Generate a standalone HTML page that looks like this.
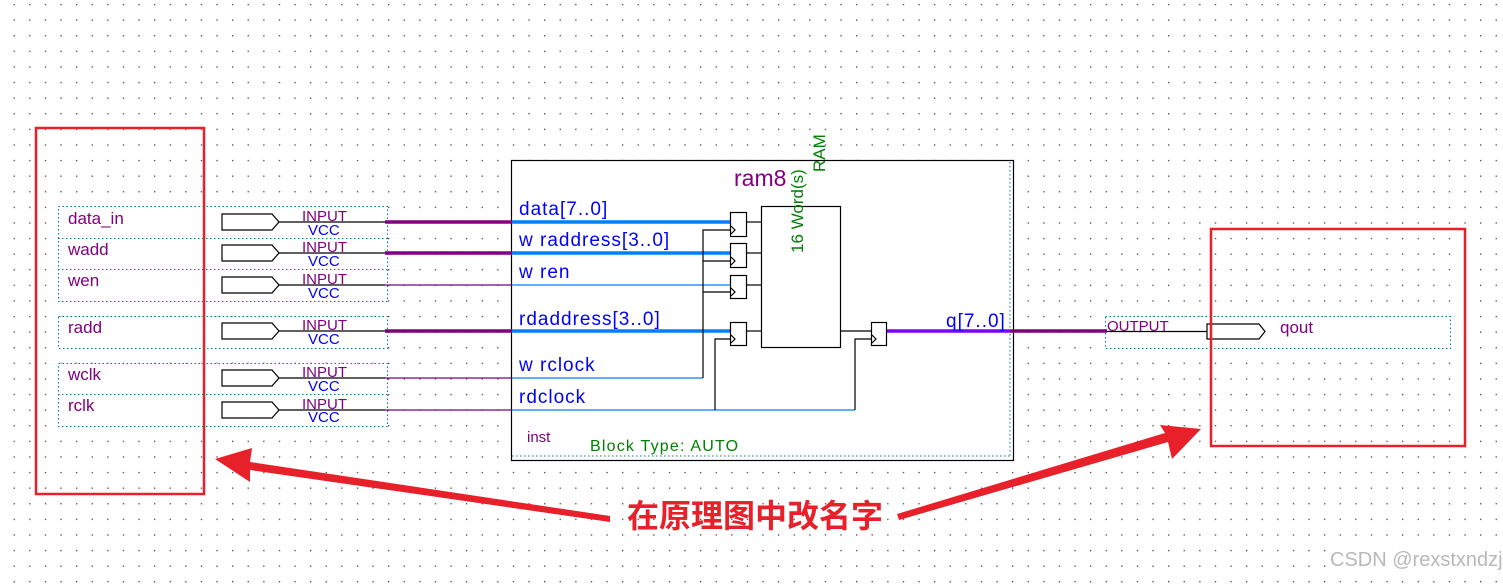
<!DOCTYPE html>
<html><head><meta charset="utf-8"><style>
html,body{margin:0;padding:0;background:#fff;width:1503px;height:586px;overflow:hidden}
svg{display:block}
text{font-family:"Liberation Sans","Noto Sans CJK SC",sans-serif}
</style></head><body>
<svg width="1503" height="586" viewBox="0 0 1503 586" xmlns="http://www.w3.org/2000/svg">
<defs>
<pattern id="g" x="13.6" y="3.9" width="15.6" height="15.6" patternUnits="userSpaceOnUse">
<rect x="0" y="0" width="1.3" height="1.3" fill="#444"/>
</pattern>
</defs>
<rect width="1503" height="586" fill="#fff"/>
<rect width="1503" height="586" fill="url(#g)"/>

<!-- block -->
<rect x="511.5" y="160.5" width="502" height="300" fill="#fff" stroke="#000" stroke-width="1.2"/>
<line x1="1010" y1="162" x2="1010" y2="458" stroke="#008080" stroke-dasharray="1.5,2.5"/>
<line x1="512" y1="456" x2="1010" y2="456" stroke="#008080" stroke-dasharray="1.5,2.5"/>

<!-- dotted groups -->
<g fill="#fff" stroke="#008080" stroke-dasharray="1.5,2.5" stroke-width="1">
<rect x="58.5" y="206.5" width="329" height="95"/>
<line x1="58" y1="238.5" x2="387" y2="238.5"/>
<line x1="58" y1="269.5" x2="387" y2="269.5"/>
<rect x="58.5" y="316.5" width="329" height="32"/>
<rect x="58.5" y="363.5" width="329" height="63"/>
<line x1="58" y1="394.5" x2="387" y2="394.5"/>
<rect x="1105.5" y="316.5" width="345" height="32"/>
</g>

<!-- pin names -->
<g fill="#800080" font-size="17">
<text x="68" y="224">data_in</text>
<text x="68" y="255">wadd</text>
<text x="68" y="286">wen</text>
<text x="68" y="333">radd</text>
<text x="68" y="380">wclk</text>
<text x="68" y="411">rclk</text>
<text x="1280" y="333">qout</text>
<text x="1107" y="331" font-size="15">OUTPUT</text>
</g>

<!-- input pins -->
<g fill="#fff" stroke="#000" stroke-width="1.2">
<polygon points="222,214 272,214 279,222 272,230 222,230"/>
<polygon points="222,245 272,245 279,253 272,261 222,261"/>
<polygon points="222,277 272,277 279,285 272,293 222,293"/>
<polygon points="222,323 272,323 279,331 272,339 222,339"/>
<polygon points="222,370 272,370 279,378 272,386 222,386"/>
<polygon points="222,402 272,402 279,410 272,418 222,418"/>
<polygon points="1207,324 1259,324 1265,331.5 1259,339 1207,339"/>
</g>
<g stroke="#000" stroke-width="1.2">
<line x1="279" y1="222" x2="385" y2="222"/>
<line x1="279" y1="253" x2="385" y2="253"/>
<line x1="279" y1="285" x2="385" y2="285"/>
<line x1="279" y1="331" x2="385" y2="331"/>
<line x1="279" y1="378" x2="385" y2="378"/>
<line x1="279" y1="410" x2="385" y2="410"/>
<line x1="1107" y1="331.5" x2="1207" y2="331.5"/>
</g>
<g font-size="15">
<g fill="#800080">
<text x="302" y="221">INPUT</text><text x="302" y="252">INPUT</text><text x="302" y="284">INPUT</text>
<text x="302" y="330">INPUT</text><text x="302" y="377">INPUT</text><text x="302" y="409">INPUT</text>
</g>
<g fill="#0000ff">
<text x="308" y="235">VCC</text><text x="308" y="266">VCC</text><text x="308" y="298">VCC</text>
<text x="308" y="344">VCC</text><text x="308" y="391">VCC</text><text x="308" y="422">VCC</text>
</g>
</g>

<!-- purple wires outside -->
<g stroke="#800080">
<line x1="385" y1="222" x2="512" y2="222" stroke-width="3.5"/>
<line x1="385" y1="253" x2="512" y2="253" stroke-width="3.5"/>
<line x1="385" y1="331" x2="512" y2="331" stroke-width="3.5"/>
<line x1="385" y1="285" x2="512" y2="285" stroke-width="1.2"/>
<line x1="385" y1="378" x2="512" y2="378" stroke-width="1.2"/>
<line x1="385" y1="410" x2="512" y2="410" stroke-width="1.2"/>
<line x1="1010" y1="331" x2="1107" y2="331" stroke-width="3.5"/>
</g>

<!-- blue wires inside -->
<g stroke="#0080ff">
<line x1="512" y1="222" x2="731" y2="222" stroke-width="3.5"/>
<line x1="512" y1="253" x2="731" y2="253" stroke-width="3.5"/>
<line x1="512" y1="331" x2="731" y2="331" stroke-width="3.5"/>
<line x1="512" y1="285" x2="731" y2="285" stroke-width="1.2"/>
<line x1="512" y1="378" x2="703" y2="378" stroke-width="1.2"/>
<line x1="512" y1="410" x2="855" y2="410" stroke-width="1.2"/>
</g>
<line x1="886" y1="331" x2="1010" y2="331" stroke="#8000ff" stroke-width="3.5"/>

<!-- black internal -->
<g stroke="#000" stroke-width="1.2" fill="none">
<polyline points="703,378 703,230 731,230"/>
<line x1="703" y1="261" x2="731" y2="261"/>
<line x1="703" y1="292" x2="731" y2="292"/>
<polyline points="715,410 715,339 731,339"/>
<polyline points="855,410 855,339 871,339"/>
<line x1="746" y1="222" x2="761" y2="222"/>
<line x1="746" y1="253" x2="761" y2="253"/>
<line x1="746" y1="285" x2="761" y2="285"/>
<line x1="746" y1="331" x2="761" y2="331"/>
<line x1="840" y1="331" x2="871" y2="331"/>
<rect x="761.5" y="206.5" width="79" height="141" fill="#fff"/>
<rect x="730.5" y="212.5" width="16" height="24" fill="#fff"/>
<rect x="730.5" y="243.5" width="16" height="24" fill="#fff"/>
<rect x="730.5" y="275.5" width="16" height="23" fill="#fff"/>
<rect x="730.5" y="322.5" width="16" height="23" fill="#fff"/>
<rect x="871.5" y="322.5" width="15" height="23" fill="#fff"/>
<polyline points="731,226 735,230 731,234"/>
<polyline points="731,257 735,261 731,265"/>
<polyline points="731,288 735,292 731,296"/>
<polyline points="731,335 735,339 731,343"/>
<polyline points="872,335 876,339 872,343"/>
</g>

<!-- block text -->
<g fill="#0000ff" font-size="19" letter-spacing="1">
<text x="519" y="215">data[7..0]</text>
<text x="519" y="246">w raddress[3..0]</text>
<text x="519" y="278">w ren</text>
<text x="519" y="325">rdaddress[3..0]</text>
<text x="519" y="371">w rclock</text>
<text x="519" y="403">rdclock</text>
<text x="946" y="327">q[7..0]</text>
</g>
<text x="734" y="186" fill="#800080" font-size="23">ram8</text>
<text x="527" y="442" fill="#800080" font-size="15">inst</text>
<text x="590" y="451" fill="#008000" font-size="16" letter-spacing="1.2">Block Type: AUTO</text>
<text transform="translate(803,253) rotate(-90)" fill="#008000" font-size="17">16 Word(s)</text>
<text transform="translate(825,172) rotate(-90)" fill="#008000" font-size="17">RAM</text>

<!-- red annotations -->
<g fill="none" stroke="#e8202a" stroke-width="2.5">
<rect x="36" y="128" width="168" height="366"/>
<rect x="1211" y="229" width="254" height="217"/>
</g>
<g fill="#e8202a">
<polygon points="610,516 250,462 252,448 215,459 250,482 250,470 610,522"/>
<polygon points="897,514 1165,433 1160,425 1201,429 1172,459 1168,442 899,520"/>
</g>
<text x="627" y="527" fill="#e8202a" font-size="32" font-weight="bold" font-family="'Noto Sans CJK SC',sans-serif">在原理图中改名字</text>
<rect x="1326" y="545" width="175" height="24" fill="#fff"/>
<text x="1330" y="566" fill="#b8b8b8" font-size="20">CSDN @rexstxndzjx</text>
</svg>
</body></html>
